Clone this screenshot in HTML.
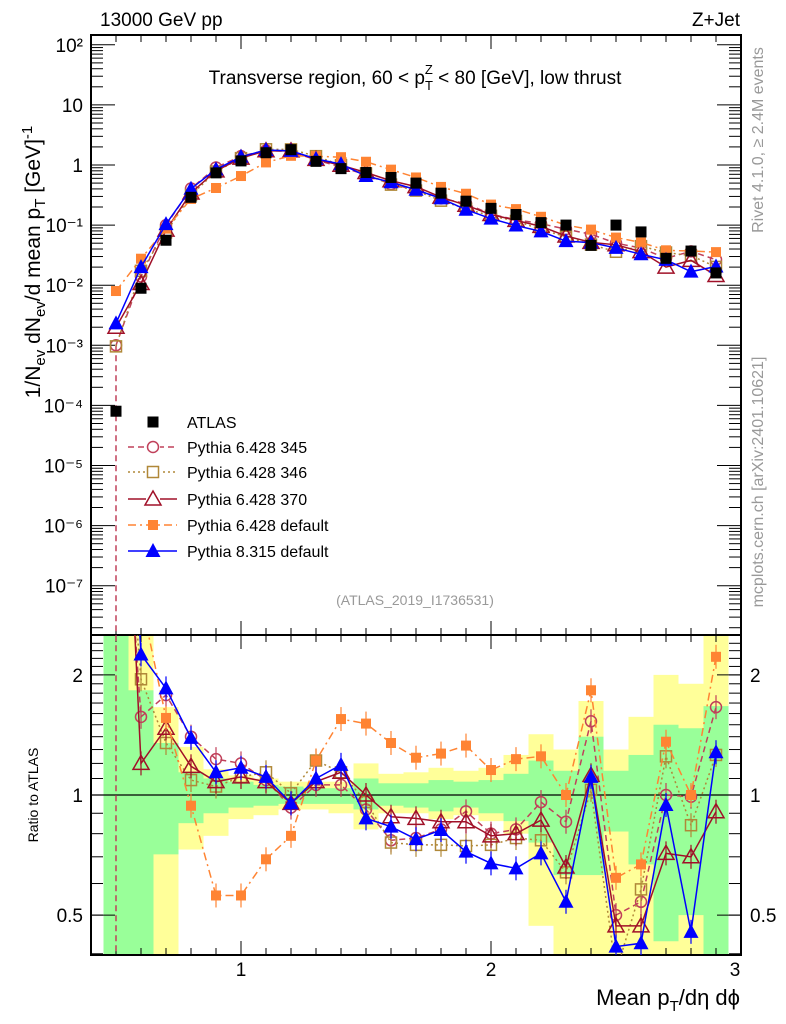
<!DOCTYPE html>
<html><head><meta charset="utf-8"><style>
html,body{margin:0;padding:0;background:#fff;}
svg{display:block;font-family:"Liberation Sans",Arial,sans-serif;}
</style></head><body>
<svg id="chart" width="786" height="1024" viewBox="0 0 786 1024" xmlns="http://www.w3.org/2000/svg">
<g id="bands"></g>
<g id="grid"></g>
<g id="series"></g>
<g id="texts">
<text x="100" y="26" font-size="19">13000 GeV pp</text>
<text x="740" y="26" font-size="19" text-anchor="end">Z+Jet</text>
<text x="415" y="84" font-size="19" text-anchor="middle">Transverse region, 60 &lt; p<tspan font-size="13" dy="6">T</tspan><tspan font-size="13" dx="-8" dy="-16">Z</tspan><tspan dy="10"> &lt; 80 [GeV], low thrust</tspan></text>
<text transform="translate(40,262) rotate(-90)" font-size="21" text-anchor="middle">1/N<tspan font-size="15" dy="5">ev</tspan><tspan dy="-5"> dN</tspan><tspan font-size="15" dy="5">ev</tspan><tspan dy="-5">/d mean p</tspan><tspan font-size="15" dy="5">T</tspan><tspan dy="-5"> [GeV]</tspan><tspan font-size="15" dy="-8">-1</tspan></text>
<text transform="translate(763,140) rotate(-90)" font-size="16" fill="#999" text-anchor="middle">Rivet 4.1.0, ≥ 2.4M events</text>
<text transform="translate(763,482) rotate(-90)" font-size="16" fill="#999" text-anchor="middle">mcplots.cern.ch [arXiv:2401.10621]</text>
<text x="415" y="605" font-size="14" fill="#999" text-anchor="middle">(ATLAS_2019_I1736531)</text>
<text transform="translate(38,795) rotate(-90)" font-size="14" text-anchor="middle">Ratio to ATLAS</text>
<text x="740" y="1005" font-size="22" text-anchor="end">Mean p<tspan font-size="15" dy="6">T</tspan><tspan dy="-6">/dη dϕ</tspan></text>
</g>
<g id="legend"></g>
</svg>
<script>
const xCenters=[0.5,0.6,0.7,0.8,0.9,1.0,1.1,1.2,1.3,1.4,1.5,1.6,1.7,1.8,1.9,2.0,2.1,2.2,2.3,2.4,2.5,2.6,2.7,2.8,2.9];
const atlas=[8e-5,0.0089,0.056,0.29,0.74,1.17,1.6,1.8,1.15,0.87,0.75,0.62,0.5,0.34,0.25,0.19,0.15,0.11,0.1,0.046,0.1,0.077,0.028,0.037,0.016];
const ratioP345=[12.5,1.57,1.78,1.4,1.23,1.2,1.09,0.93,1.06,1.06,0.92,0.77,0.78,0.82,0.91,0.80,0.82,0.96,0.857,1.53,0.5,0.54,1.0,0.99,1.66];
const ratioP346=[12,1.95,1.35,1.09,1.05,1.11,1.14,1.01,1.22,1.14,0.96,0.76,0.75,0.75,0.745,0.75,0.78,0.77,0.64,1.03,0.36,0.58,1.25,0.84,1.26];
const ratioP370=[25,1.2,1.47,1.18,1.08,1.11,1.08,0.953,1.08,1.14,1.0,0.882,0.874,0.857,0.857,0.79,0.80,0.865,0.66,1.12,0.47,0.47,0.714,0.70,0.908];
const ratioP6def=[100,3.1,1.56,0.94,0.56,0.56,0.69,0.79,1.22,1.55,1.51,1.35,1.24,1.27,1.33,1.155,1.23,1.25,1.0,1.83,0.62,0.67,1.36,1.0,2.22];
const ratioP8=[29,2.25,1.85,1.39,1.14,1.17,1.11,0.953,1.10,1.19,0.874,0.833,0.775,0.817,0.721,0.674,0.655,0.714,0.54,1.11,0.417,0.425,0.944,0.454,1.28];
const yellowHi=[3,3,1.66,1.32,1.16,1.12,1.1,1.08,1.08,1.08,1.2,1.13,1.14,1.17,1.15,1.17,1.26,1.42,1.3,1.72,1.3,1.57,2.0,1.9,2.6];
const greenHi=[3,1.83,1.35,1.14,1.1,1.08,1.06,1.05,1.04,1.04,1.1,1.07,1.07,1.09,1.08,1.09,1.13,1.22,1.15,1.4,1.15,1.26,1.5,1.47,1.67];
const greenLo=[0.3,0.3,0.71,0.85,0.9,0.93,0.94,0.95,0.95,0.95,0.92,0.94,0.93,0.91,0.93,0.9,0.86,0.76,0.63,0.63,0.81,0.67,0.43,0.5,0.3];
const yellowLo=[0.3,0.3,0.3,0.73,0.79,0.87,0.89,0.92,0.92,0.9,0.82,0.9,0.9,0.87,0.89,0.86,0.8,0.47,0.3,0.3,0.3,0.3,0.3,0.3,0.3];
const mainTickLabels=["10²","10","1","10⁻¹","10⁻²","10⁻³","10⁻⁴","10⁻⁵","10⁻⁶","10⁻⁷"];
const mainTickExps=[2,1,0,-1,-2,-3,-4,-5,-6,-7];
const ratioTicks=[0.5,1,2];
const xTickLabels=["1","2","3"];

const NS="http://www.w3.org/2000/svg";
const L=91,R=741,MT=35,MB=635,RT=635,RB=955;
const X=v=>L+(v-0.4)*(R-L)/2.6;
const Y=v=>165-60.1*Math.log10(v);
const YR=v=>795-399*Math.log10(v);
function mk(tag,attrs,parent){const e=document.createElementNS(NS,tag);for(const k in attrs)e.setAttribute(k,attrs[k]);parent.appendChild(e);return e;}
const bands=document.getElementById('bands'),grid=document.getElementById('grid'),ser=document.getElementById('series'),leg=document.getElementById('legend');

const clampR=v=>Math.max(RT,Math.min(RB,v));
xCenters.forEach((c,i)=>{
  const x0=X(c-0.05),x1=X(c+0.05);
  const ry=mk('rect',{x:x0,y:clampR(YR(yellowHi[i])),width:x1-x0,height:clampR(YR(yellowLo[i]))-clampR(YR(yellowHi[i])),fill:'#ffff99'},bands);
  
  
  const rg=mk('rect',{x:x0,y:clampR(YR(greenHi[i])),width:x1-x0,height:clampR(YR(greenLo[i]))-clampR(YR(greenHi[i])),fill:'#99ff99'},bands);
  
  
});

mk('rect',{x:L,y:MT,width:R-L,height:MB-MT,fill:'none',stroke:'#000','stroke-width':2},grid);
mk('rect',{x:L,y:RT,width:R-L,height:RB-RT,fill:'none',stroke:'#000','stroke-width':2},grid);
mk('line',{x1:L,x2:R,y1:YR(1),y2:YR(1),stroke:'#000','stroke-width':1.3},grid);
for(let e=-8;e<=2;e++){for(let m=1;m<10;m++){const v=m*Math.pow(10,e);const y=Y(v);if(y<MT||y>MB)continue;const len=m===1?24:12;
 mk('line',{x1:L,x2:L+len,y1:y,y2:y,stroke:'#000'},grid);mk('line',{x1:R,x2:R-len,y1:y,y2:y,stroke:'#000'},grid);}}
mainTickExps.forEach((e,i)=>{const t=mk('text',{x:83,y:Y(Math.pow(10,e))+7,'font-size':19,'text-anchor':'end'},grid);t.textContent=mainTickLabels[i];
 
 });
for(let v=0.4;v<=2.5;v+=0.1){const y=YR(v);if(y<RT||y>RB)continue;mk('line',{x1:L,x2:L+12,y1:y,y2:y,stroke:'#000'},grid);mk('line',{x1:R,x2:R-12,y1:y,y2:y,stroke:'#000'},grid);}
ratioTicks.forEach(v=>{const y=YR(v);mk('line',{x1:L,x2:L+24,y1:y,y2:y,stroke:'#000'},grid);mk('line',{x1:R,x2:R-24,y1:y,y2:y,stroke:'#000'},grid);
 const a=mk('text',{x:83,y:y+7,'font-size':19,'text-anchor':'end'},grid);a.textContent=String(v);
 
 
 const b=mk('text',{x:750,y:y+7,'font-size':19},grid);b.textContent=String(v);
 
 });
for(let k=5;k<=30;k++){const v=k/10;const x=X(v);const big=k%10===0;const len=big?14:7;
 [[MT,1],[MB,-1],[RT,1],[RB,-1]].forEach(([y,d])=>mk('line',{x1:x,x2:x,y1:y,y2:y+d*len,stroke:'#000'},grid));}
xTickLabels.forEach((s,i)=>{const t=mk('text',{x:X(i+1)+(i===2?-6:0),y:976,'font-size':19,'text-anchor':'middle'},grid);t.textContent=s;
 
 });

function marker(type,x,y,col,p){
  if(type==='sq') return mk('rect',{x:x-5.5,y:y-5.5,width:11,height:11,fill:col},p);
  if(type==='osq') return mk('rect',{x:x-5.5,y:y-5.5,width:11,height:11,fill:'none',stroke:col,'stroke-width':1.5},p);
  if(type==='circ') return mk('circle',{cx:x,cy:y,r:5.5,fill:'none',stroke:col,'stroke-width':1.5},p);
  if(type==='otri') return mk('polygon',{points:`${x},${y-8} ${x-8},${y+6} ${x+8},${y+6}`,fill:'none',stroke:col,'stroke-width':1.5},p);
  if(type==='tri') return mk('polygon',{points:`${x},${y-8} ${x-7.5},${y+6} ${x+7.5},${y+6}`,fill:col},p);
  if(type==='fsq') return mk('rect',{x:x-5,y:y-5,width:10,height:10,fill:col},p);
}
const seriesDefs=[
 {name:'pythia-6428-345',r:ratioP345,col:'#c0405a',dash:'6,4',m:'circ',label:'Pythia 6.428 345'},
 {name:'pythia-6428-346',r:ratioP346,col:'#b08838',dash:'2,3',m:'osq',label:'Pythia 6.428 346'},
 {name:'pythia-6428-370',r:ratioP370,col:'#a01028',dash:'',m:'otri',label:'Pythia 6.428 370'},
 {name:'pythia-6428-default',r:ratioP6def,col:'#ff8433',dash:'8,4,2,4',m:'fsq',label:'Pythia 6.428 default'},
 {name:'pythia-8315-default',r:ratioP8,col:'#0000ff',dash:'',m:'tri',label:'Pythia 8.315 default'}
];
const clipM=mk('clipPath',{id:'cm'},ser);mk('rect',{x:L,y:MT,width:R-L,height:MB-MT},clipM);
const clipR=mk('clipPath',{id:'cr'},ser);mk('rect',{x:L,y:RT,width:R-L,height:RB-RT},clipR);
const eb=mk('line',{x1:X(0.5),x2:X(0.5),y1:Y(atlas[0]*ratioP345[0]),y2:RB,stroke:'#c0405a','stroke-dasharray':'6,4','stroke-width':1.5},ser);


seriesDefs.forEach(s=>{
  const gm=mk('g',{'clip-path':'url(#cm)'},ser);
  
  
  const gr=mk('g',{'clip-path':'url(#cr)'},ser);
  
  
  const pm=xCenters.map((c,i)=>X(c)+','+Y(atlas[i]*s.r[i])).join(' ');
  const pr=xCenters.map((c,i)=>X(c)+','+YR(s.r[i])).join(' ');
  const a={fill:'none',stroke:s.col,'stroke-width':1.5};if(s.dash)a['stroke-dasharray']=s.dash;
  mk('polyline',Object.assign({points:pm},a),gm);
  mk('polyline',Object.assign({points:pr},a),gr);
  xCenters.forEach((c,i)=>{
    const m1=marker(s.m,X(c),Y(atlas[i]*s.r[i]),s.col,gm);
    
    
    const yr=YR(s.r[i]);
    mk('line',{x1:X(c),x2:X(c),y1:yr-12,y2:yr+12,stroke:s.col,'stroke-width':1.2},gr);
    const m2=marker(s.m,X(c),yr,s.col,gr);
    
    
  });
});
const ga=mk('g',{'clip-path':'url(#cm)'},ser);
xCenters.forEach((c,i)=>{const m=marker('sq',X(c),Y(atlas[i]),'#000',ga);
 
 });

const ly=[422,447,472,499,525,551];
const lm=marker('sq',153,ly[0],'#000',leg);


const lt=mk('text',{x:187,y:ly[0]+6,'font-size':16},leg);lt.textContent='ATLAS';


seriesDefs.forEach((s,k)=>{const y=ly[k+1];
 const a={x1:128,x2:177,y1:y,y2:y,stroke:s.col,'stroke-width':1.5};if(s.dash)a['stroke-dasharray']=s.dash;
 mk('line',a,leg);
 if(s.m==='circ'||s.m==='osq'||s.m==='otri')mk('rect',{x:146,y:y-8,width:14,height:15,fill:'#fff'},leg);
 const m=marker(s.m,153,y,s.col,leg);
 
 
 const t=mk('text',{x:187,y:y+6,'font-size':16},leg);t.textContent=s.label;
 
 });
</script>
</body></html>
